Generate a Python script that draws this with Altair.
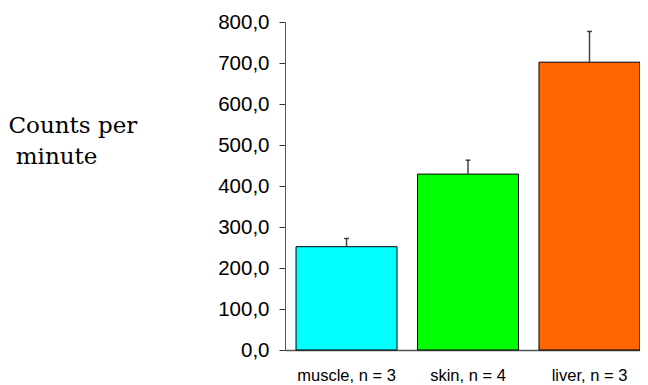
import altair as alt
import pandas as pd

tissues = ["muscle, n = 3", "skin, n = 4", "liver, n = 3"]
means = [252, 429, 702]
upper = [272, 463, 777]
colors = ["#00FFFF", "#00FF00", "#FF6600"]

df = pd.DataFrame({"tissue": tissues, "mean": means, "upper": upper, "color": colors})

xscale = alt.Scale(domain=tissues, paddingInner=0.1687, paddingOuter=0.0454, align=1)
yscale = alt.Scale(domain=[0, 800], nice=False)

x = alt.X("tissue:N", scale=xscale, sort=tissues,
          axis=alt.Axis(title=None, labelAngle=0, ticks=False, labelFont="Liberation Sans",
                        labelFontSize=16.5, labelColor="black", labelPadding=17,
                        domainColor="#555555", domainWidth=1.5, grid=False))

bars = alt.Chart(df).mark_bar(stroke="black", strokeWidth=1).encode(
    x=x,
    y=alt.Y("mean:Q", scale=yscale,
            axis=alt.Axis(title=["Counts per", "\u200b minute"], titleAngle=0, titleAlign="left",
                          titleBaseline="alphabetic", titleX=-277, titleY=110,
                          titleFont="DejaVu Serif", titleFontSize=23, titleFontWeight="normal",
                          titleColor="black", titleLineHeight=31,
                          values=[0, 100, 200, 300, 400, 500, 600, 700, 800],
                          labelExpr="replace(format(datum.value, '.1f'), '.', ',')",
                          labelFont="Liberation Sans", labelFontSize=20.5, labelColor="black",
                          labelPadding=10, tickSize=6, tickColor="#333333",
                          domainColor="#555555", grid=False)),
    fill=alt.Fill("color:N", scale=None),
)

err = alt.Chart(df).mark_rule(color="#444444", strokeWidth=1.5).encode(
    x=alt.X("tissue:N", scale=xscale, sort=tissues),
    y=alt.Y("mean:Q", scale=yscale),
    y2="upper:Q",
)

caps = alt.Chart(df).mark_tick(color="black", thickness=1.5, size=5).encode(
    x=alt.X("tissue:N", scale=xscale, sort=tissues),
    y=alt.Y("upper:Q", scale=yscale),
)

chart = alt.layer(bars, err, caps).properties(
    width=355, height=328,
    autosize=alt.AutoSizeParams(type="none"),
    padding={"left": 277, "top": 14, "right": 0, "bottom": 35},
    background="white",
).configure_view(stroke="transparent", strokeWidth=0).configure_axis(grid=False)

chart.save("out.html", embed_options={"renderer": "svg", "actions": False})
